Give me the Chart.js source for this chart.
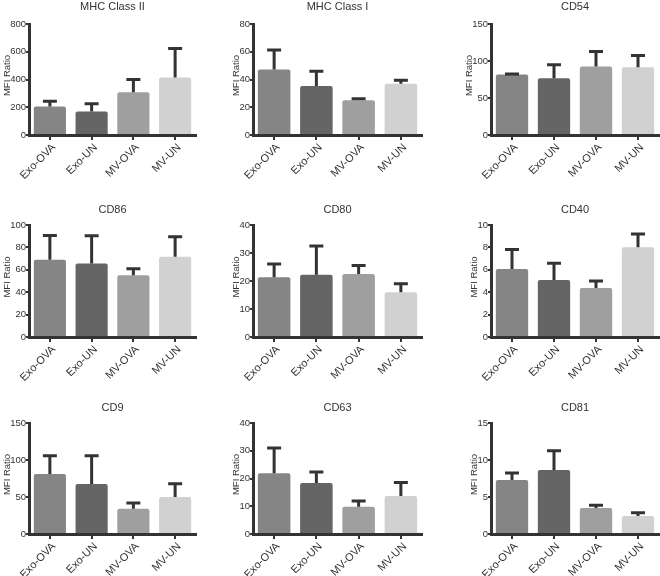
<!DOCTYPE html>
<html>
<head>
<meta charset="utf-8">
<script src="https://cdn.jsdelivr.net/npm/chart.js@4"></script>
<style>
  html, body { margin: 0; padding: 0; background: #fff; }
  #wrap { position: relative; width: 660px; height: 576px; overflow: hidden; }
  #wrap canvas { position: absolute; }
</style>
</head>
<body>
<div id="wrap"></div>
<script>
// groups on the x axis
const groups = ['Exo-OVA', 'Exo-UN', 'MV-OVA', 'MV-UN'];
const barColors = ['#858585', '#656565', '#9f9f9f', '#d1d1d1'];

const panelTitles = ['MHC Class II', 'MHC Class I', 'CD54', 'CD86', 'CD80', 'CD40', 'CD9', 'CD63', 'CD81'];

// means and upper error (SEM) per marker
const mhc2Mean = [206, 170, 309, 414];
const mhc2Err  = [38, 55, 91, 209];
const mhc1Mean = [47.2, 35.4, 25.1, 36.9];
const mhc1Err  = [14.1, 10.6, 1.0, 2.6];
const cd54Mean = [81.7, 76.8, 92.5, 91.6];
const cd54Err  = [0.8, 18, 20.5, 15.7];
const cd86Mean = [68.9, 65.6, 55.1, 71.6];
const cd86Err  = [21.8, 24.8, 5.9, 17.9];
const cd80Mean = [21.3, 22.2, 22.5, 16.0];
const cd80Err  = [4.8, 10.3, 3.0, 3.0];
const cd40Mean = [6.08, 5.09, 4.37, 8.02];
const cd40Err  = [1.73, 1.5, 0.63, 1.17];
const cd9Mean  = [81.1, 67.6, 34.2, 50];
const cd9Err   = [24.8, 38.3, 7.7, 18];
const cd63Mean = [21.9, 18.4, 9.85, 13.7];
const cd63Err  = [9.1, 3.9, 2.05, 4.9];
const cd81Mean = [7.3, 8.65, 3.51, 2.43];
const cd81Err  = [0.94, 2.61, 0.36, 0.45];

const allMeans = [mhc2Mean, mhc1Mean, cd54Mean, cd86Mean, cd80Mean, cd40Mean, cd9Mean, cd63Mean, cd81Mean];
const allErrs  = [mhc2Err, mhc1Err, cd54Err, cd86Err, cd80Err, cd40Err, cd9Err, cd63Err, cd81Err];

// y axis ranges
const yMaxes = [800, 80, 150, 100, 40, 10, 150, 40, 15];
const ySteps = [200, 20, 50, 20, 10, 2, 50, 10, 5];

const yTitle = 'MFI Ratio';
const ink = '#333';
const fontFam = "'Liberation Sans', Arial, sans-serif";
const yTickSize = 9.5;

Chart.defaults.font.family = fontFam;
Chart.defaults.color = ink;

// panel grid
const cols = [
    { left: 0,   axis: 29,  right: 196 },
    { left: 220, axis: 253, right: 422 },
    { left: 440, axis: 491, right: 659 }
];
const rows = [
    { top: 0,   plotTop: 24,  zero: 135, h: 200, titleY: 7 },
    { top: 190, plotTop: 225, zero: 337, h: 200, titleY: 210 },
    { top: 380, plotTop: 423, zero: 534, h: 196, titleY: 408 }
];

const errorBars = {
    id: 'errorBars',
    afterDatasetsDraw(chart, args, opts) {
        const ctx = chart.ctx;
        const meta = chart.getDatasetMeta(0);
        const y = chart.scales.y;
        ctx.save();
        ctx.strokeStyle = ink;
        ctx.lineWidth = 3;
        meta.data.forEach((bar, i) => {
            const m = opts.means[i];
            const top = y.getPixelForValue(m + opts.errs[i]);
            const base = y.getPixelForValue(m);
            ctx.beginPath();
            ctx.moveTo(bar.x, base);
            ctx.lineTo(bar.x, top);
            ctx.moveTo(bar.x - 7, top);
            ctx.lineTo(bar.x + 7, top);
            ctx.stroke();
        });
        ctx.restore();
    }
};

const panelText = {
    id: 'panelText',
    afterDraw(chart, args, opts) {
        const ctx = chart.ctx;
        const a = chart.chartArea;
        const yScale = chart.scales.y;
        ctx.save();
        ctx.fillStyle = ink;
        ctx.textAlign = 'center';
        ctx.textBaseline = 'middle';
        // widest tick label decides where the axis title goes
        ctx.font = yTickSize + 'px ' + fontFam;
        let widest = 0;
        yScale.ticks.forEach(t => { widest = Math.max(widest, ctx.measureText(String(t.label)).width); });
        const labelLeft = a.left - 3 - widest;
        ctx.font = '11px ' + fontFam;
        ctx.fillText(opts.title, (a.left + a.right) / 2, opts.titleY);
        ctx.font = '9.5px ' + fontFam;
        ctx.translate(Math.max(labelLeft - 3, 6), (a.top + a.bottom) / 2 - 4);
        ctx.rotate(-Math.PI / 2);
        ctx.fillText(yTitle, 0, 0);
        ctx.restore();
    }
};

const wrap = document.getElementById('wrap');

panelTitles.forEach((title, p) => {
    const col = cols[p % 3];
    const row = rows[Math.floor(p / 3)];
    const canvas = document.createElement('canvas');
    canvas.width = 220;
    canvas.height = row.h;
    canvas.style.left = col.left + 'px';
    canvas.style.top = row.top + 'px';
    wrap.appendChild(canvas);

    new Chart(canvas, {
        type: 'bar',
        data: {
            labels: groups,
            datasets: [{
                data: allMeans[p],
                backgroundColor: barColors,
                borderWidth: 0,
                borderRadius: 2,
                barPercentage: 0.77,
                categoryPercentage: 1
            }]
        },
        options: {
            responsive: false,
            animation: false,
            layout: { padding: { top: row.plotTop - row.top, right: col.left + 220 - col.right, left: 0, bottom: 0 } },
            plugins: {
                legend: { display: false },
                tooltip: { enabled: false },
                errorBars: { means: allMeans[p], errs: allErrs[p] },
                panelText: { title: title, titleY: row.titleY - row.top }
            },
            scales: {
                x: {
                    afterFit: s => { s.height = row.top + row.h - row.zero; },
                    border: { color: ink, width: 3 },
                    grid: { offset: false, drawOnChartArea: false, drawTicks: true, tickLength: 5, tickColor: ink, lineWidth: 2 },
                    ticks: { minRotation: 45, maxRotation: 45, padding: 1, labelOffset: 4, font: { size: 11 }, color: ink }
                },
                y: {
                    min: 0,
                    max: yMaxes[p],
                    afterFit: s => { s.width = col.axis - col.left; },
                    border: { color: ink, width: 3 },
                    grid: { drawOnChartArea: false, drawTicks: true, tickLength: 3, tickColor: ink, lineWidth: 2 },
                    ticks: { stepSize: ySteps[p], padding: 0, font: { size: yTickSize }, color: ink }
                }
            }
        },
        plugins: [errorBars, panelText]
    });
});
</script>
</body>
</html>
